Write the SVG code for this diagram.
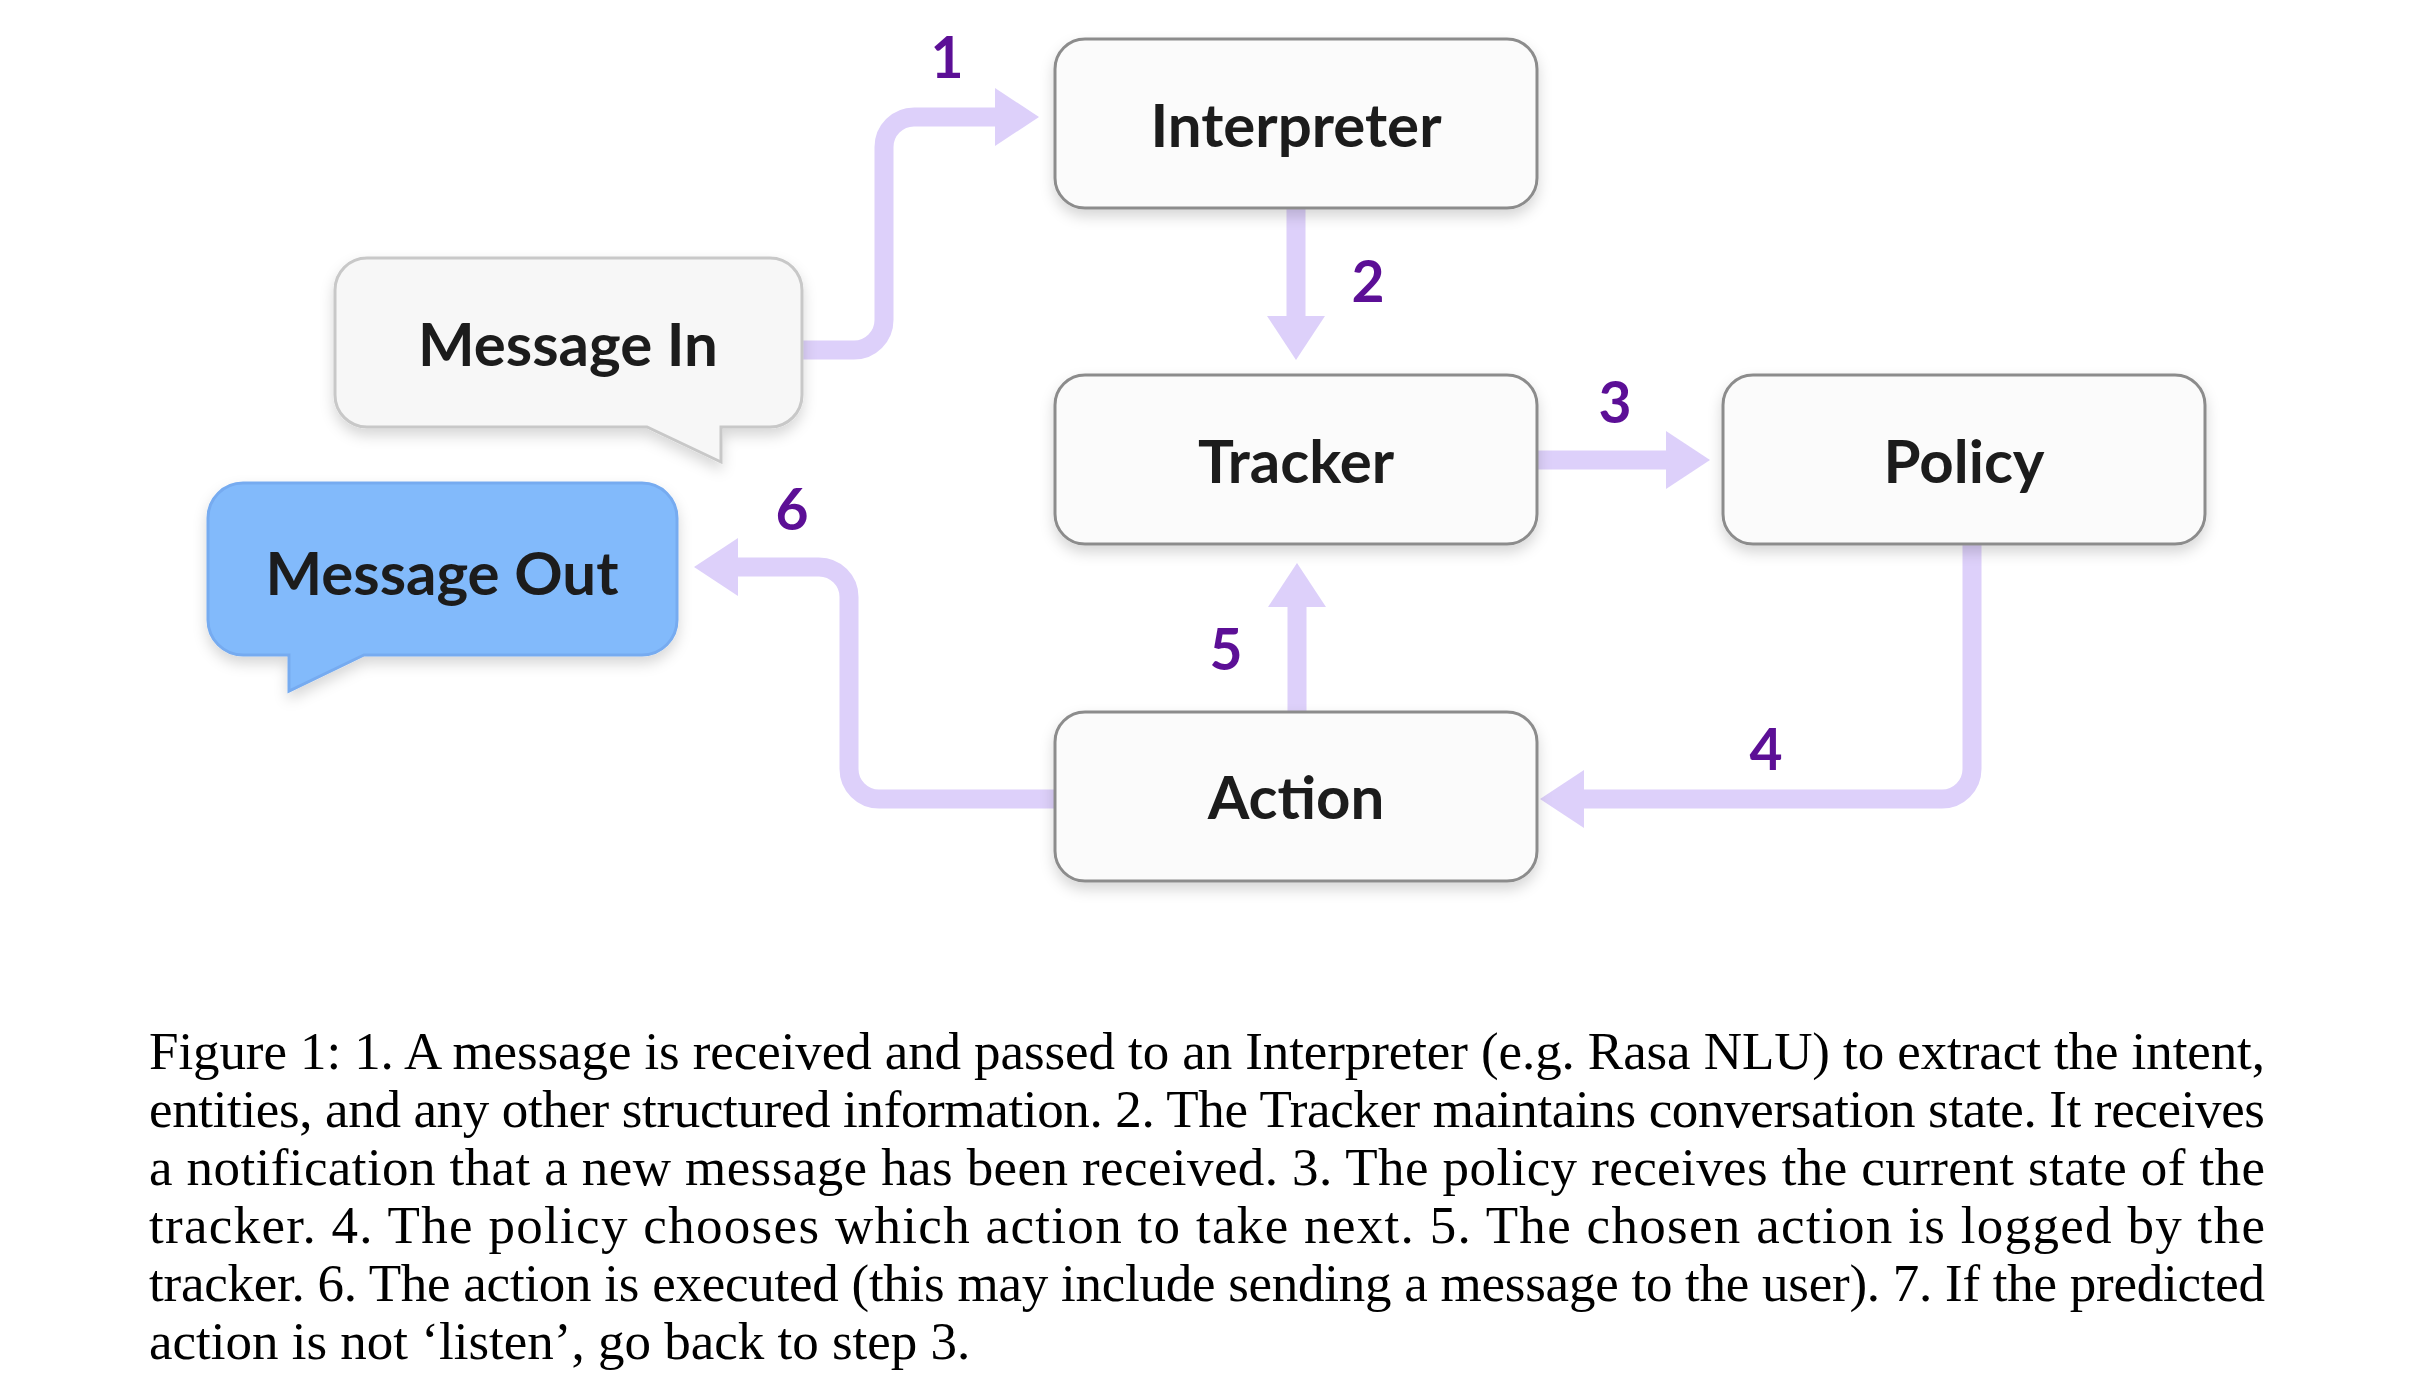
<svg xmlns="http://www.w3.org/2000/svg" width="2432" height="1386" viewBox="0 0 2432 1386">
<style>
.box{fill:#FBFBFB;stroke:#8C8C8C;stroke-width:3}
.lbl{font-family:Lato,"Open Sans","Liberation Sans",sans-serif;font-weight:700;font-size:60px;fill:#1C1C1C;text-anchor:middle}
.num{font-family:Lato,"Open Sans","Liberation Sans",sans-serif;font-weight:700;font-size:57px;fill:#5C0F96;text-anchor:middle}
.conn{fill:none;stroke:#DDD0FA;stroke-width:19}
.cap{font-family:"Liberation Serif","Times New Roman",serif;font-size:53px;fill:#000}
</style>
<defs>
<filter id="sh" x="-10%" y="-10%" width="120%" height="140%">
<feDropShadow dx="0" dy="7" stdDeviation="7" flood-color="#000" flood-opacity="0.16"/>
</filter>
<marker id="ah" markerUnits="userSpaceOnUse" markerWidth="44" markerHeight="58" refX="0" refY="29" orient="auto">
<path d="M0,0 L44,29 L0,58 Z" fill="#DDD0FA"/>
</marker>
</defs>
<rect width="2432" height="1386" fill="#FFFFFF"/>
<g id="connectors">
<path class="conn" marker-end="url(#ah)" d="M802,350 L854,350 A30,30 0 0 0 884,320 L884,147 A30,30 0 0 1 914,117 L995,117"/>
<path class="conn" marker-end="url(#ah)" d="M1296,208 L1296,316"/>
<path class="conn" marker-end="url(#ah)" d="M1538,460 L1666,460"/>
<path class="conn" marker-end="url(#ah)" d="M1972,544 L1972,769 A30,30 0 0 1 1942,799 L1584,799"/>
<path class="conn" marker-end="url(#ah)" d="M1297,712 L1297,607"/>
<path class="conn" marker-end="url(#ah)" d="M1055,799 L879,799 A30,30 0 0 1 849,769 L849,597 A30,30 0 0 0 819,567 L738,567"/>
<text class="num" x="947" y="78">1</text>
<text class="num" x="1368" y="302">2</text>
<text class="num" x="1615" y="423">3</text>
<text class="num" x="1766" y="770">4</text>
<text class="num" x="1226" y="670">5</text>
<text class="num" x="792" y="530">6</text>
</g>
<g id="message-in">
<path filter="url(#sh)" fill="#F7F7F7" stroke="#C8C8C8" stroke-width="3" d="M367,258 H770 A32,32 0 0 1 802,290 V395 A32,32 0 0 1 770,427 H721 V462 L647,427 H367 A32,32 0 0 1 335,395 V290 A32,32 0 0 1 367,258 Z"/>
<text class="lbl" x="568" y="366">Message In</text>
</g>
<g id="message-out">
<path filter="url(#sh)" fill="#82BAFB" stroke="#76ABF0" stroke-width="3" d="M243,483 H642 A35,35 0 0 1 677,518 V620 A35,35 0 0 1 642,655 H364 L289,691 V655 H243 A35,35 0 0 1 208,620 V518 A35,35 0 0 1 243,483 Z"/>
<text class="lbl" x="442" y="595">Message Out</text>
</g>
<g id="interpreter">
<rect class="box" filter="url(#sh)" x="1055" y="39" width="482" height="169" rx="30"/>
<text class="lbl" x="1296" y="147">Interpreter</text>
</g>
<g id="tracker">
<rect class="box" filter="url(#sh)" x="1055" y="375" width="482" height="169" rx="30"/>
<text class="lbl" x="1296" y="483">Tracker</text>
</g>
<g id="policy">
<rect class="box" filter="url(#sh)" x="1723" y="375" width="482" height="169" rx="30"/>
<text class="lbl" x="1964" y="483">Policy</text>
</g>
<g id="action">
<rect class="box" filter="url(#sh)" x="1055" y="712" width="482" height="169" rx="30"/>
<text class="lbl" x="1296" y="819">Action</text>
</g>
<g id="caption">
<text class="cap" x="149" y="1069" textLength="2116" lengthAdjust="spacing">Figure 1: 1. A message is received and passed to an Interpreter (e.g. Rasa NLU) to extract the intent,</text>
<text class="cap" x="149" y="1127" textLength="2116" lengthAdjust="spacing">entities, and any other structured information. 2. The Tracker maintains conversation state. It receives</text>
<text class="cap" x="149" y="1185" textLength="2116" lengthAdjust="spacing">a notification that a new message has been received. 3. The policy receives the current state of the</text>
<text class="cap" x="149" y="1243" textLength="2116" lengthAdjust="spacing">tracker.  4.  The policy chooses which action to take next.  5.  The chosen action is logged by the</text>
<text class="cap" x="149" y="1301" textLength="2116" lengthAdjust="spacing">tracker. 6. The action is executed (this may include sending a message to the user). 7. If the predicted</text>
<text class="cap" x="149" y="1359">action is not ‘listen’, go back to step 3.</text>
</g>
</svg>
